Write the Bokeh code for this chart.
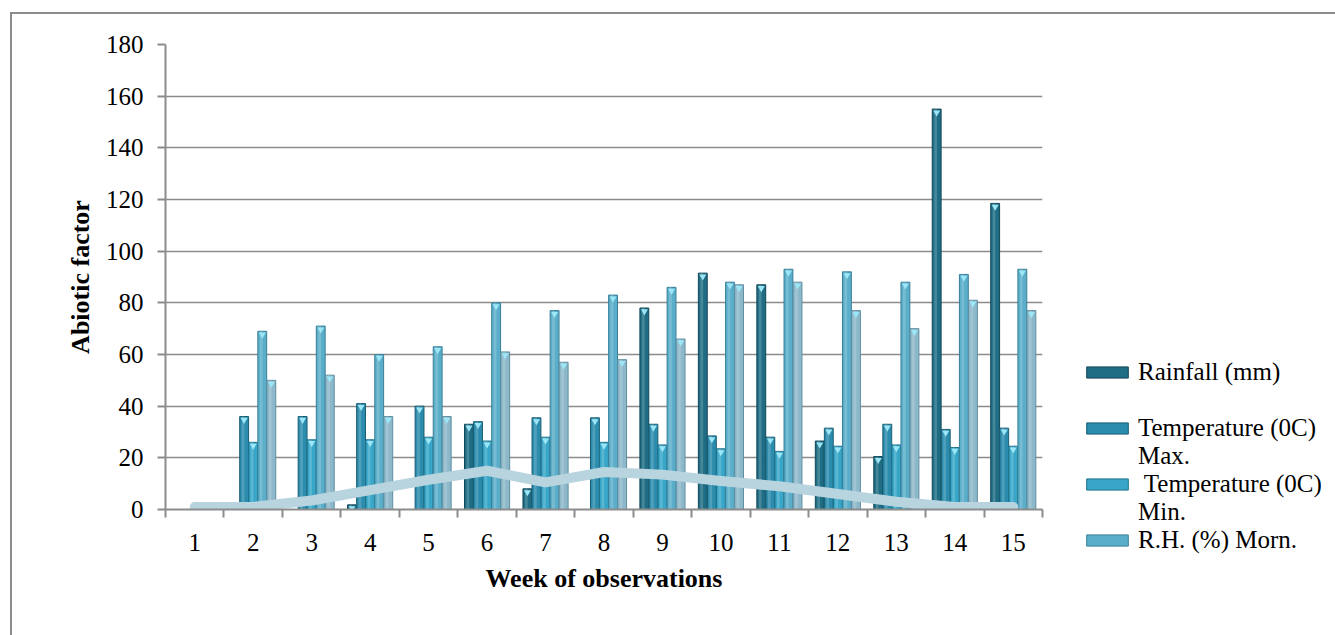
from bokeh.plotting import figure
from bokeh.models import FixedTicker, Legend, LegendItem, Range1d
from bokeh.embed import file_html
from bokeh.resources import INLINE

# ---- data -------------------------------------------------------------
weeks = list(range(1, 16))
y_ticks = list(range(0, 181, 20))

rainfall = [0, 0, 0, 1.8, 0, 33, 8, 0, 78, 91.5, 87, 26.5, 20.5, 155, 118.5]
temp_max = [0, 36, 36, 41, 40, 34, 35.5, 35.5, 33, 28.5, 28, 31.5, 33, 31, 31.5]
temp_min = [0, 26, 27, 27, 28, 26.5, 28, 26, 25, 23.5, 22.5, 24.5, 25, 24, 24.5]
rh_morn = [0, 69, 71, 60, 63, 80, 77, 83, 86, 88, 93, 92, 88, 91, 93]
rh_even = [0, 50, 52, 36, 36, 61, 57, 58, 66, 87, 88, 77, 70, 81, 77]
population = [1, 1, 3.5, 7.5, 11.5, 15, 10.5, 14.5, 13.5, 11, 9, 6, 3, 1, 1]

# legend rows: (text, series index, or None for a text-only row)
legend_rows = [
    ("Rainfall (mm)", 0),
    (" ", None),
    ("Temperature (0C)", 1),
    ("Max.", None),
    (" Temperature (0C)", 2),
    ("Min.", None),
    ("R.H. (%) Morn.", 3),
]

FONT = "Liberation Serif"
GRID = "#8c8c8c"

series = [
    (rainfall, "#1f6d84", "#124757"),
    (temp_max, "#2b8cad", "#1a5d73"),
    (temp_min, "#37a6c8", "#20728c"),
    (rh_morn, "#5aaec9", "#3a7f98"),
    (rh_even, "#8db8ca", "#5f8ea1"),
]

p = figure(frame_width=877, frame_height=465,
           x_range=Range1d(0.5, 15.5), y_range=Range1d(0, 180),
           output_backend="svg", toolbar_location=None,
           min_border_left=153, min_border_right=293,
           min_border_top=30, min_border_bottom=126)
p.background_fill_color = "white"
p.border_fill_color = "white"
p.outline_line_color = None
# outer chart-area border (its left and top edges lie inside the page)
p.styles = {
    "margin-left": "10px",
    "margin-top": "12px",
    "border-left": f"2px solid {GRID}",
    "border-top": f"2px solid {GRID}",
}

# ---- grouped "cylinder" bars -----------------------------------------
bar_w = 0.155
renderers = []
for i, (vals, fill, edge) in enumerate(series):
    off = (i - 2) * bar_w
    xs = [w + off for w, v in zip(weeks, vals) if v > 0]
    tops = [v for v in vals if v > 0]
    r = p.vbar(x=xs, top=tops, bottom=0, width=bar_w * 0.98,
               fill_color=fill, line_color=edge, line_width=1)
    renderers.append(r)
    # soft highlight stripe for a rounded look
    p.vbar(x=[x - bar_w * 0.12 for x in xs], top=tops, bottom=0, width=bar_w * 0.3,
           fill_color="white", fill_alpha=0.18, line_color=None)
    # small bevel cap at the top of each bar
    p.scatter(x=xs, y=[t - 1.3 for t in tops], marker="inverted_triangle", size=7,
              fill_color="#9be6f7", line_color=None)

# invisible renderer used by text-only legend rows
blank = p.vbar(x=[], top=[], width=0.1, fill_alpha=0, line_alpha=0)

# ---- population line --------------------------------------------------
p.line(weeks, population, line_width=10, color="#b8d4df",
       line_cap="round", line_join="round")

# ---- axes -------------------------------------------------------------
p.xgrid.visible = False
p.ygrid.grid_line_color = GRID
p.ygrid.grid_line_width = 1.6

yax = p.yaxis[0]
yax.ticker = FixedTicker(ticks=y_ticks)
yax.axis_line_color = GRID
yax.axis_line_width = 2
yax.major_tick_line_color = GRID
yax.major_tick_line_width = 2
yax.major_tick_out = 8
yax.major_tick_in = 0
yax.minor_tick_line_color = None
yax.major_label_text_font = FONT
yax.major_label_text_font_size = "25px"
yax.major_label_text_color = "black"
yax.major_label_standoff = 14
yax.axis_label = "Abiotic factor"
yax.axis_label_text_font = FONT
yax.axis_label_text_font_size = "26px"
yax.axis_label_text_font_style = "bold"
yax.axis_label_text_color = "black"
yax.axis_label_standoff = 8

xax = p.xaxis[0]
xax.ticker = FixedTicker(ticks=weeks, minor_ticks=[w - 0.5 for w in weeks] + [weeks[-1] + 0.5])
xax.axis_line_color = GRID
xax.axis_line_width = 2
xax.major_tick_line_color = None
xax.major_tick_out = 0
xax.major_tick_in = 0
xax.minor_tick_line_color = GRID
xax.minor_tick_line_width = 2
xax.minor_tick_out = 8
xax.minor_tick_in = 0
xax.major_label_text_font = FONT
xax.major_label_text_font_size = "25px"
xax.major_label_text_color = "black"
xax.major_label_standoff = 16
xax.axis_label = "Week of observations"
xax.axis_label_text_font = FONT
xax.axis_label_text_font_size = "26px"
xax.axis_label_text_font_style = "bold"
xax.axis_label_text_color = "black"
xax.axis_label_standoff = 10

# ---- legend (side panel, so it is not clipped to the frame) ----------
items = [LegendItem(label=txt, renderers=[renderers[idx] if idx is not None else blank])
         for txt, idx in legend_rows]
legend = Legend(
    items=items, location=(39, -45), orientation="vertical",
    glyph_width=52, glyph_height=14, label_standoff=5, spacing=-2, label_height=28,
    padding=0, margin=0, border_line_alpha=0, background_fill_alpha=0,
    label_text_font=FONT, label_text_font_size="25px", label_text_color="black",
)
p.add_layout(legend, "right")

open("out.html", "w").write(file_html(p, INLINE))
